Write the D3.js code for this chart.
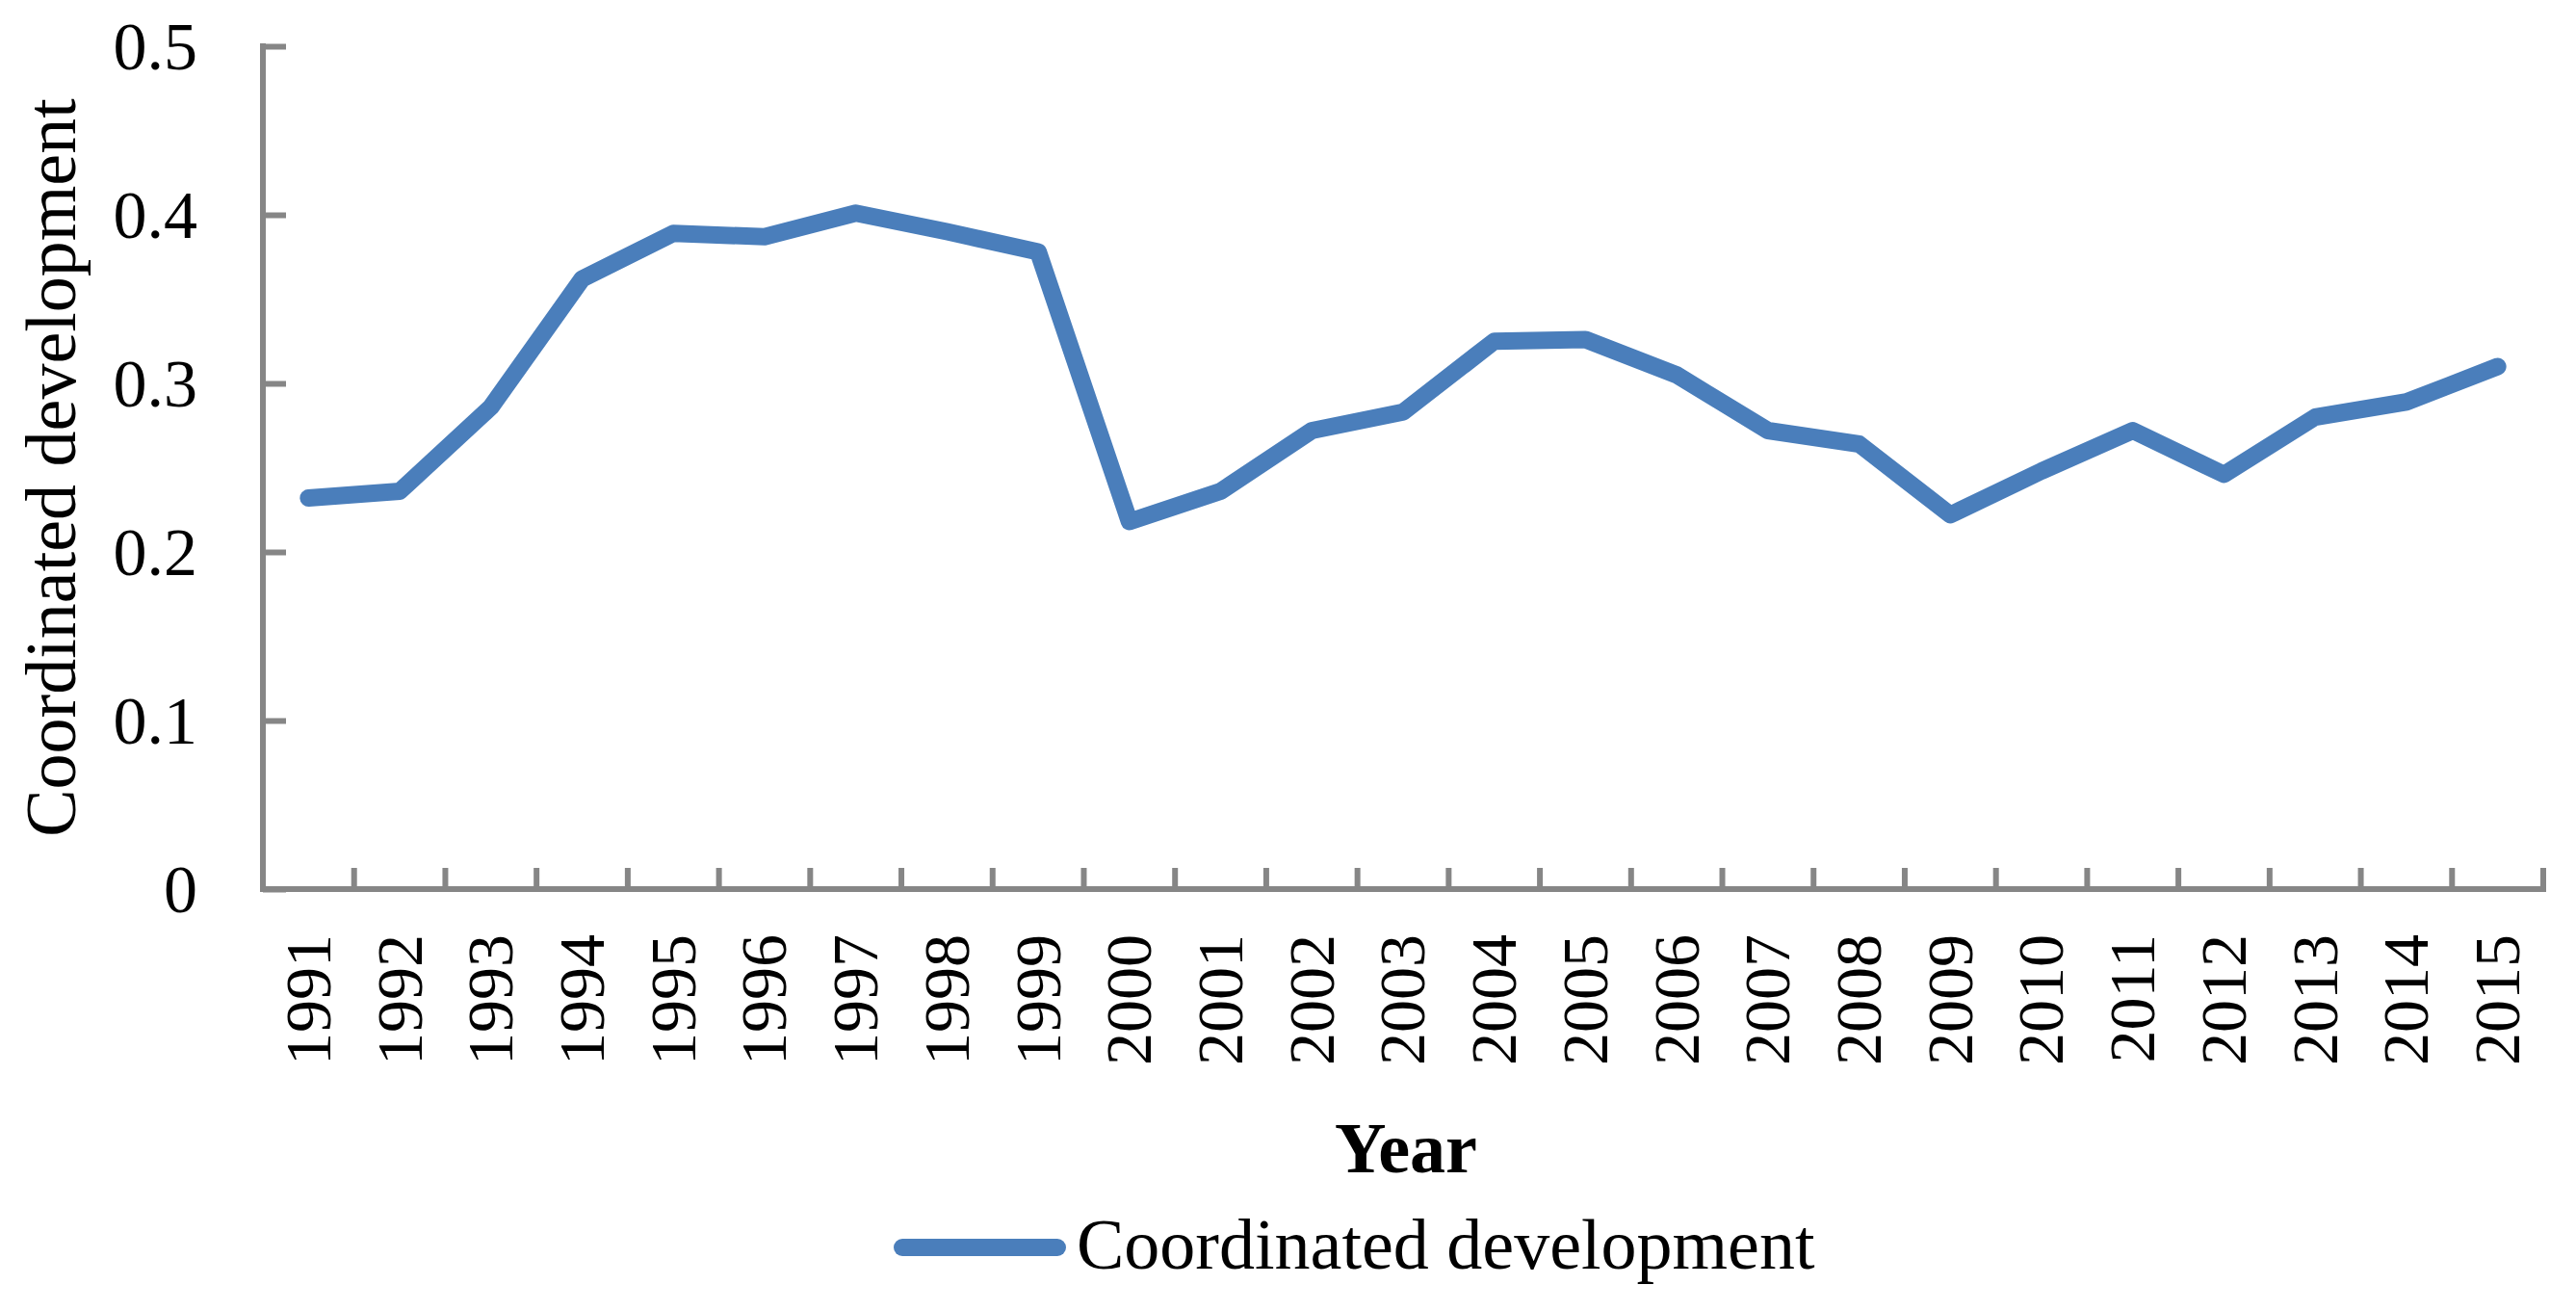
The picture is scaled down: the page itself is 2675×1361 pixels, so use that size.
<!DOCTYPE html>
<html>
<head>
<meta charset="utf-8">
<script src="https://cdn.jsdelivr.net/npm/d3@7"></script>
<style>
  body { margin: 0; background: #fff; }
  svg { display: block; font-family: "Liberation Serif", "Times New Roman", serif; }
</style>
</head>
<body>
<div id="chart"></div>
<script>
// data
const years = ["1991", "1992", "1993", "1994", "1995", "1996", "1997", "1998", "1999", "2000",
               "2001", "2002", "2003", "2004", "2005", "2006", "2007", "2008", "2009", "2010",
               "2011", "2012", "2013", "2014", "2015"];
const coordinated = [0.232, 0.236, 0.286, 0.362, 0.389, 0.387, 0.401, 0.390, 0.378, 0.218,
                     0.236, 0.272, 0.283, 0.325, 0.326, 0.305, 0.272, 0.264, 0.222, 0.248,
                     0.272, 0.246, 0.280, 0.289, 0.310];
const yTicks = [0, 0.1, 0.2, 0.3, 0.4, 0.5];
const seriesName = "Coordinated development";

const width = 2675;
const height = 1361;
const marginLeft = 273;
const marginTop = 48;
const plotW = 2641 - marginLeft;
const plotH = 923 - marginTop;

const fontFamily = '"Liberation Serif", "Times New Roman", serif';
const axisColor = "#868686";
const lineColor = "#4a7ebb";

const svg = d3.select("#chart").append("svg")
  .attr("width", width)
  .attr("height", height);

svg.append("rect").attr("width", width).attr("height", height).attr("fill", "#fff");

const g = svg.append("g").attr("transform", `translate(${marginLeft}, ${marginTop})`);

const x = d3.scaleBand().domain(years).range([0, plotW]);
const y = d3.scaleLinear().domain([0, 0.5]).range([plotH, 0]);

// y axis, ticks pointing inside
const yAxis = g.append("g")
  .call(d3.axisLeft(y).tickValues(yTicks).tickSizeInner(-24).tickSizeOuter(0).tickPadding(68)
    .tickFormat(d => d === 0 ? "0" : d3.format(".1f")(d)))
  .attr("font-family", fontFamily);
yAxis.selectAll("line").attr("stroke", axisColor).attr("stroke-width", 6);
yAxis.selectAll("text").attr("font-size", 70).attr("fill", "#000").attr("dy", "0.34em");

// x axis: labels at band centres, ticks at band edges
const xAxis = g.append("g")
  .attr("transform", `translate(0, ${plotH})`)
  .call(d3.axisBottom(x).tickSize(0).tickPadding(0))
  .attr("font-family", fontFamily);
xAxis.selectAll("text")
  .attr("font-size", 68)
  .attr("fill", "#000")
  .attr("transform", "rotate(-90)")
  .attr("text-anchor", "end")
  .attr("x", -47)
  .attr("y", 0)
  .attr("dy", "0.33em");

const edges = years.slice(1).map(d => x(d)).concat([x.range()[1]]);
g.append("g").selectAll("line")
  .data(edges)
  .join("line")
    .attr("x1", d => d).attr("x2", d => d)
    .attr("y1", plotH).attr("y2", plotH - 22)
    .attr("stroke", axisColor).attr("stroke-width", 6);

// axis lines drawn on top with square ends so the corner closes
yAxis.select(".domain").remove();
xAxis.select(".domain").remove();
g.append("path")
  .attr("d", `M0,${y(0.5)}V${plotH}H${plotW}`)
  .attr("fill", "none")
  .attr("stroke", axisColor)
  .attr("stroke-width", 6)
  .attr("stroke-linecap", "square");

// the series
const points = years.map((d, i) => ({ year: d, value: coordinated[i] }));
g.append("path")
  .datum(points)
  .attr("fill", "none")
  .attr("stroke", lineColor)
  .attr("stroke-width", 18)
  .attr("stroke-linejoin", "round")
  .attr("stroke-linecap", "round")
  .attr("d", d3.line()
    .x(d => x(d.year) + x.bandwidth() / 2)
    .y(d => y(d.value)));

// axis titles
svg.append("text")
  .text("Coordinated development")
  .attr("transform", `translate(78, ${marginTop + plotH / 2}) rotate(-90)`)
  .attr("text-anchor", "middle")
  .attr("font-size", 74)
  .attr("fill", "#000");

svg.append("text")
  .text("Year")
  .attr("x", 1460)
  .attr("y", 1217)
  .attr("text-anchor", "middle")
  .attr("font-size", 74)
  .attr("font-weight", "bold")
  .attr("fill", "#000");

// legend
svg.append("line")
  .attr("x1", 937).attr("x2", 1098)
  .attr("y1", 1295).attr("y2", 1295)
  .attr("stroke", lineColor)
  .attr("stroke-width", 18)
  .attr("stroke-linecap", "round");

svg.append("text")
  .text(seriesName)
  .attr("x", 1118)
  .attr("y", 1317)
  .attr("font-size", 74)
  .attr("fill", "#000");
</script>
</body>
</html>
